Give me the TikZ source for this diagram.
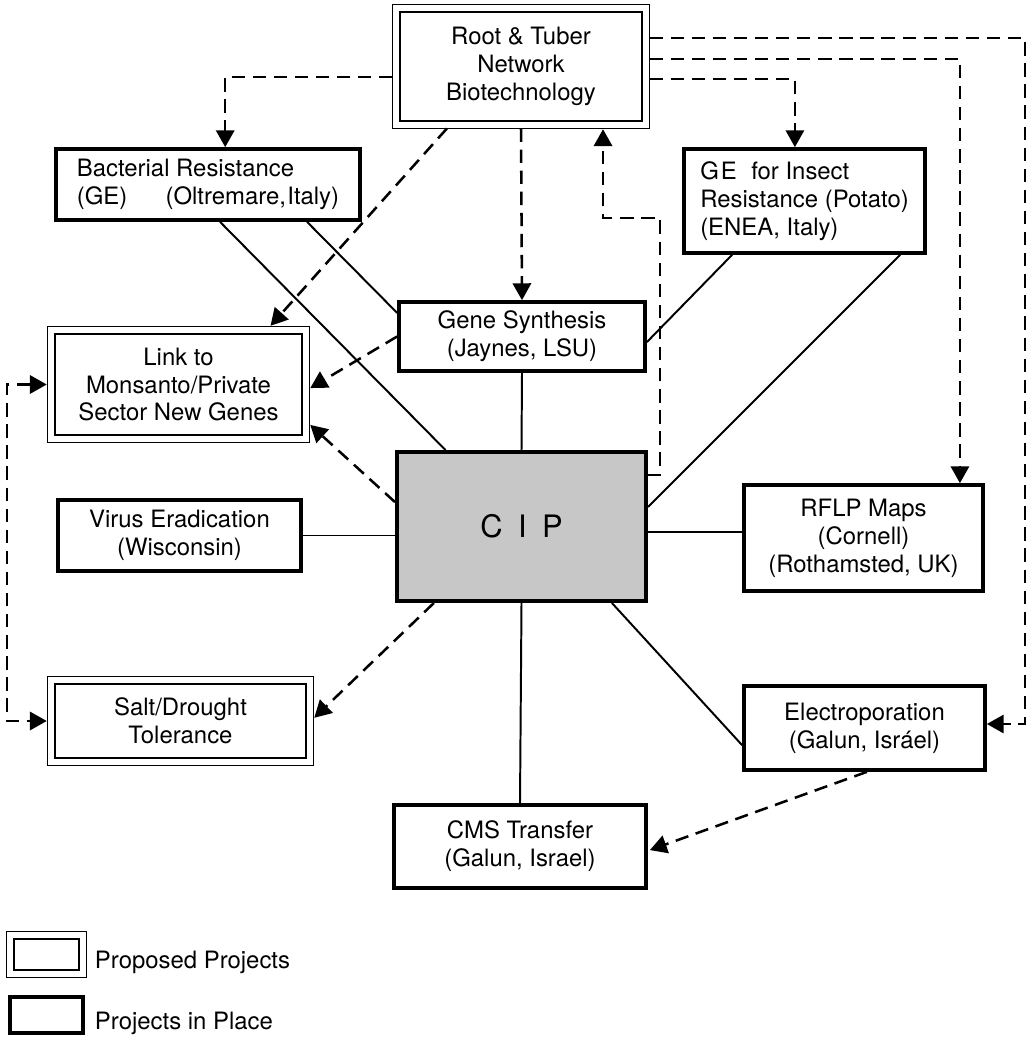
\documentclass[tikz,border=0pt]{standalone}
\usepackage{fontspec}
\setmainfont{TeX Gyre Heros}
\usepackage{tikz}
\usetikzlibrary{arrows.meta,calc,positioning}
\tikzset{
  inplace/.style={draw,line width=2.6pt,align=center,inner sep=0pt},
  proposed/.style={draw,line width=2pt,align=center,inner sep=0pt},
  rimline/.style={line width=1.1pt},
  cipbox/.style={draw,line width=2.8pt,fill=black!22,inner sep=0pt},
  tie/.style={line width=1.4pt},
  feed/.style={line width=1.8pt,dash pattern=on 9.5pt off 5.5pt,-{Triangle[length=12pt,width=13pt]}},
  feedboth/.style={feed,{Triangle[length=12pt,width=13pt]}-{Triangle[length=12pt,width=13pt]}}
}

\begin{document}
\begin{tikzpicture}[x=0.025cm,y=-0.025cm,font=\fontsize{17}{19.8}\selectfont]
  \useasboundingbox (0,0) rectangle (1032,1038);
  \node[proposed,minimum width=6.05cm,minimum height=2.725cm] (root) at (521,66.5) {Root \& Tuber\\Network\\Biotechnology};
  \node[inplace,minimum width=7.6cm,minimum height=1.775cm,align=left] (bact) at (208,184.5) {Bacterial Resistance\\(GE)\hspace{1.6em}(Oltremare,\kern1pt Italy)};
  \node[inplace,minimum width=6.025cm,minimum height=2.6cm,align=left] (ge) at (804.5,201) {G\kern1.5pt E\hspace{0.6em}for Insect\\Resistance (Potato)\\(ENEA, Italy)};
  \node[inplace,minimum width=6.15cm,minimum height=1.725cm] (gene) at (522,336.5) {Gene Synthesis\\(Jaynes, LSU)};
  \node[proposed,minimum width=6.175cm,minimum height=2.525cm] (link) at (178.5,384.5) {Link to\\Monsanto/Private\\Sector New Genes};
  \node[inplace,minimum width=6.075cm,minimum height=1.775cm] (virus) at (179.5,535.5) {Virus Eradication\\(Wisconsin)};
  \node[cipbox,minimum width=6.225cm,minimum height=3.725cm] (cip) at (521.5,526.5) {\fontsize{22}{26}\selectfont C\hspace{0.5em}I\hspace{0.5em}P};
  \node[inplace,minimum width=5.975cm,minimum height=2.65cm] (rflp) at (863.5,538) {RFLP Maps\\(Cornell)\\(Rothamsted, UK)};
  \node[proposed,minimum width=6.275cm,minimum height=1.85cm] (salt) at (180.5,721) {Salt/Drought\\Tolerance};
  \node[inplace,minimum width=6.025cm,minimum height=2.1cm] (electro) at (864.5,728) {Electroporation\\(Galun, Isráel)};
  \node[inplace,minimum width=6.3cm,minimum height=2.075cm] (cms) at (520,846.5) {CMS Transfer\\(Galun, Israel)};

  \node[proposed,minimum width=1.625cm,minimum height=0.775cm] (keyprop) at (46.5,954.5) {};
  \node[inplace,minimum width=1.825cm,minimum height=0.9cm] (keyplace) at (46.5,1015) {};
  \node[anchor=west] (lblprop) at (90,962) {Proposed Projects};
  \node[anchor=west] (lblplace) at (90,1023) {Projects in Place};

  \foreach \n in {root,link,salt,keyprop}
    \draw[rimline] ([shift={(-0.15cm,-0.15cm)}]\n.south west) rectangle ([shift={(0.15cm,0.15cm)}]\n.north east);

  \coordinate (fb) at (660,218);
  \coordinate (rim) at (1025,724);
  \coordinate (side) at (7,550);

  \draw[tie] ([xshift=0.3cm]bact.south) -- ([xshift=-1.9cm]cip.north);
  \draw[tie] ([xshift=2.475cm]bact.south) -- ([yshift=0.59cm]gene.west);
  \draw[tie] (gene.south) -- (cip.north);
  \draw[tie] ([xshift=-1.81cm]ge.south) -- ([yshift=-0.14cm]gene.east);
  \draw[tie] ([xshift=2.39cm]ge.south) -- ([yshift=0.49cm]cip.east);
  \draw[tie] (virus.east) -- (virus.east -| cip.west);
  \draw[tie] ([yshift=-0.14cm]cip.east) -- ([yshift=-0.14cm]cip.east -| rflp.west);
  \draw[tie] (cip.south) -- (cms.north);
  \draw[tie] ([xshift=2.26cm]cip.south) -- ([yshift=-0.43cm]electro.west);

  \draw[feed] ([xshift=-0.15cm,yshift=-0.26cm]root.west) -| ([xshift=0.43cm]bact.north);
  \draw[feed] ([xshift=-1.85cm,yshift=-0.15cm]root.south) -- ([xshift=2.3cm,yshift=0.17cm]link.north);
  \draw[feed] ([yshift=-0.15cm]root.south) -- (gene.north);
  \draw[feed] ([yshift=1.29cm]cip.east) -| (fb) -| ([xshift=2.05cm,yshift=-0.17cm]root.south);
  \draw[feed] ([xshift=0.15cm,yshift=-0.31cm]root.east) -| ([xshift=-0.24cm]ge.north);
  \draw[feed] ([xshift=0.15cm,yshift=0.19cm]root.east) -| ([xshift=2.41cm]rflp.north);
  \draw[feed] ([xshift=0.15cm,yshift=0.71cm]root.east) -| (rim) -- (rim -| electro.east);
  \draw[feed] (gene.west) -- ([xshift=0.17cm,yshift=-0.09cm]link.east);
  \draw[feed] ([yshift=0.61cm]cip.west) -- ([xshift=0.17cm,yshift=-1.01cm]link.east);
  \draw[feed] ([xshift=-2.19cm]cip.south) -- ([xshift=0.17cm,yshift=0.08cm]salt.east);
  \draw[feed] ([xshift=0.06cm]electro.south) -- ([xshift=0.05cm,yshift=-0.09cm]cms.east);
  \draw[feedboth] ([xshift=-0.17cm]link.west) -| (side) |- ([xshift=-0.17cm]salt.west);
\end{tikzpicture}
\end{document}
